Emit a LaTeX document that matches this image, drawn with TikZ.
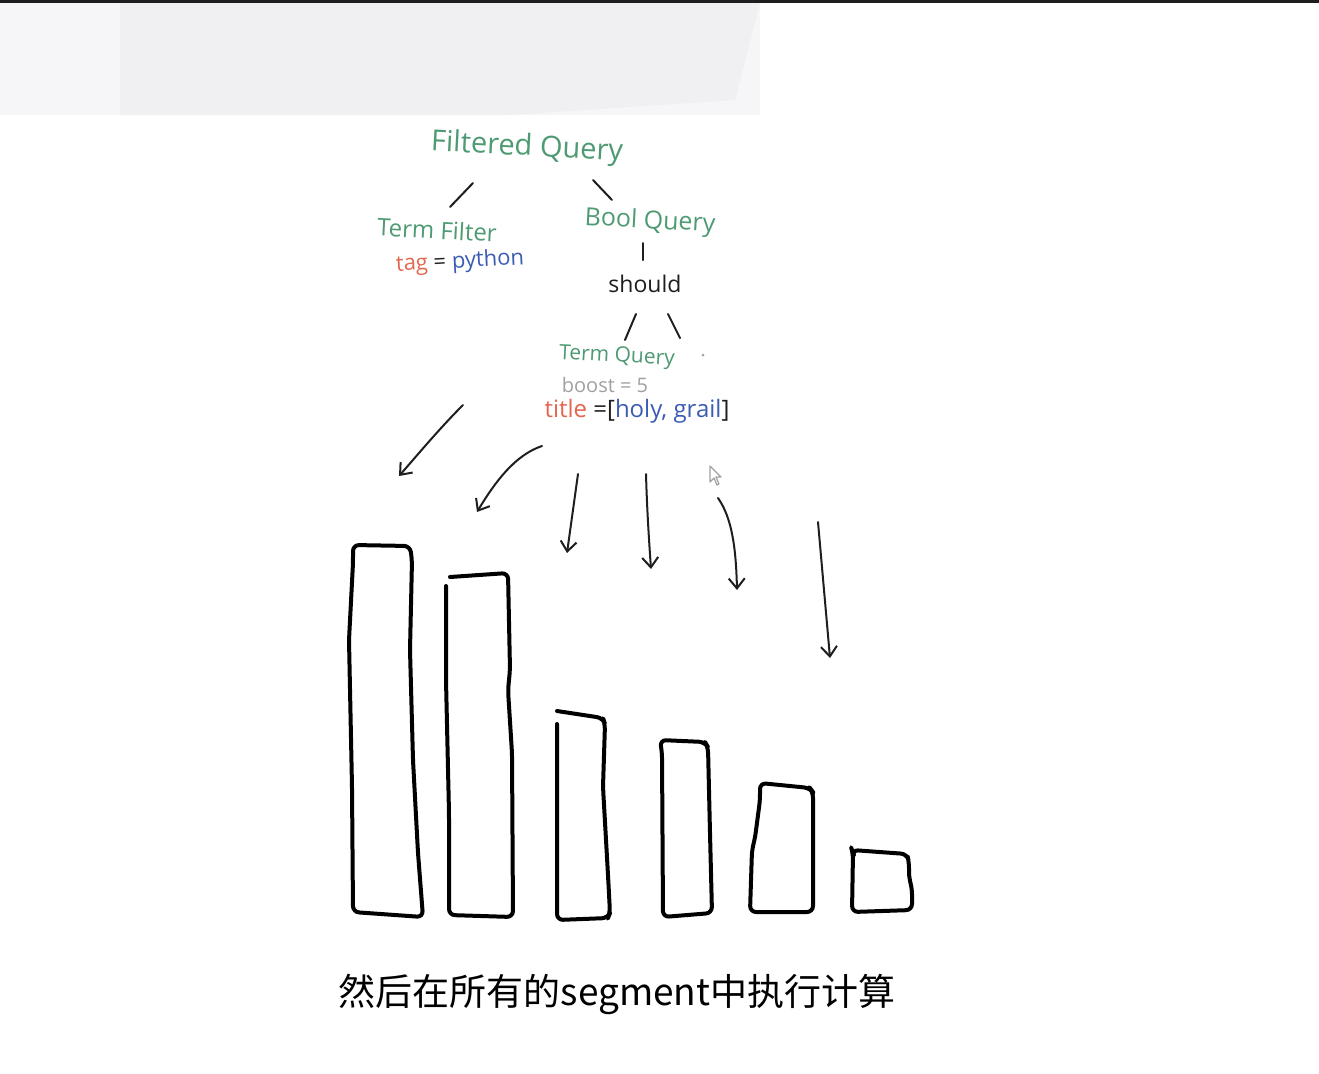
\documentclass[tikz,border=0pt]{standalone}
\usepackage{fontspec}
\setmainfont{Open Sans}
\newfontfamily\cjk{Noto Sans CJK SC}
\usetikzlibrary{arrows.meta}

\definecolor{querygreen}{HTML}{4E9A72}
\definecolor{fieldred}{HTML}{E4664E}
\definecolor{valueblue}{HTML}{3C5CB4}
\definecolor{boostgray}{HTML}{A0A0A0}
\definecolor{inkblack}{HTML}{1E1E1E}
\definecolor{bandgray}{HTML}{F6F6F8}
\definecolor{banddark}{HTML}{F0F0F2}

\begin{document}
\begin{tikzpicture}[
  x=0.5pt,
  y=-0.5pt,
  line join=round,
  line cap=round,
  qlabel/.style={text=querygreen,inner sep=0pt},
  branch/.style={draw=inkblack,line width=1pt},
  scanarrow/.style={draw=inkblack,line width=1pt,-{Straight Barb[length=5pt,width=8pt]}},
  segbar/.style={draw=black,line width=2pt,rounded corners=3pt}
]
  % Keep the frame of the screen capture.
  \useasboundingbox (0,0) rectangle (1319,1073);

  % Grey band left over at the top of the capture.
  \fill[bandgray] (0,3) rectangle (760,115);
  \fill[banddark] (120,3) -- (760,3) -- (735,100) -- (510,115) -- (120,115) -- cycle;
  \fill[inkblack] (0,0) rectangle (1319,3);

  % Query tree, handwritten labels.
  \node[qlabel,font=\fontsize{14.5}{17}\selectfont,rotate=-3] (filtered) at (527,148) {Filtered Query};
  \node[qlabel,font=\fontsize{12}{14}\selectfont,rotate=-3] (termfilter) at (437,230) {Term Filter};
  \node[inner sep=0pt,text=inkblack,font=\fontsize{11}{13}\selectfont,rotate=3] (tagterm) at (460,262)
    {\textcolor{fieldred}{tag} = \textcolor{valueblue}{python}};
  \node[qlabel,font=\fontsize{12.5}{15}\selectfont,rotate=-3] (boolq) at (650,222) {Bool Query};
  \node[inner sep=0pt,text=inkblack,font=\fontsize{11.5}{14}\selectfont] (should) at (645,284) {should};
  \node[qlabel,font=\fontsize{10.5}{13}\selectfont,rotate=-3] (termquery) at (617,357) {Term Query};
  \node[inner sep=0pt,text=boostgray,font=\fontsize{10}{12}\selectfont] (boost) at (605,385) {boost = 5};
  \node[inner sep=0pt,text=inkblack,font=\fontsize{12}{14}\selectfont] (titleterm) at (637,411)
    {\textcolor{fieldred}{title} =[\textcolor{valueblue}{holy, grail}]};

  % Tree strokes between the labels.
  \coordinate (shouldright) at (680,338);
  \draw[branch] ([shift={(-54,35)}]filtered.center) -- ([shift={(13,-23)}]termfilter.center);
  \draw[branch] ([shift={(66,32)}]filtered.center) -- ([shift={(-38,-22)}]boolq.center);
  \draw[branch] ([shift={(-7,21)}]boolq.center) -- ([shift={(-2,-24)}]should.center);
  \draw[branch] ([shift={(-9,30)}]should.center) -- ([shift={(8,-17)}]termquery.center);
  \draw[branch] ([shift={(23,30)}]should.center) -- (shouldright);
  \fill[boostgray] (703,355) circle[radius=1.5];

  % Arrows fanning out to the segments.
  \coordinate (arrA) at (463,405);  \coordinate (tipA) at (399,476);
  \coordinate (arrB) at (542,446);  \coordinate (tipB) at (477,512);
  \coordinate (arrC) at (578,474);  \coordinate (tipC) at (567,553);
  \coordinate (arrD) at (646,474);  \coordinate (tipD) at (651,569);
  \coordinate (arrE) at (718,498);  \coordinate (tipE) at (737,590);
  \coordinate (arrF) at (818,522);  \coordinate (tipF) at (830,658);
  \draw[scanarrow] (arrA) .. controls (440,428) and (420,452) .. (tipA);
  \draw[scanarrow] (arrB) .. controls (515,455) and (495,482) .. (tipB);
  \draw[scanarrow] (arrC) -- (tipC);
  \draw[scanarrow] (arrD) .. controls (647,510) and (649,540) .. (tipD);
  \draw[scanarrow] (arrE) .. controls (732,518) and (736,548) .. (tipE);
  \draw[scanarrow] (arrF) -- (tipF);

  % Segments, shrinking from left to right.
  \draw[segbar] (353,545) -- (410,546) -- (412,560) -- (410,650) -- (413,760)
    -- (418,853) -- (423,917) -- (353,912) -- (352,787) -- (349,640) -- (353,563) -- cycle;
  \draw[segbar] (450,577) -- (508,573) -- (510,670) -- (508,690) -- (512,753) -- (513,917)
    -- (449,915) -- (449,813) -- (446,680) -- (446,586);
  \draw[segbar] (557,711) -- (603,718) -- (605,724) -- (603,787) -- (608,875) -- (610,913)
    -- (608,918) -- (557,920) -- (557,724);
  \draw[segbar] (660,740) -- (705,742) -- (708,747) -- (710,833) -- (712,913)
    -- (663,917) -- (662,753) -- cycle;
  \draw[segbar] (760,783) -- (810,788) -- (813,792) -- (813,912) -- (750,912)
    -- (752,850) -- (755,838) -- (760,800) -- cycle;
  \draw[segbar] (852,850) -- (907,854) -- (909,862) -- (909,878) -- (912,888) -- (912,910)
    -- (852,912) -- (853,853) -- cycle;

  % Mouse pointer left in the capture.
  \filldraw[fill=white,draw=boostgray,line width=0.6pt] (710,466) -- (710,482) -- (714,478)
    -- (717,485) -- (719,484) -- (716,477) -- (721,477) -- cycle;

  % Caption.
  \node[inner sep=0pt,text=black,font=\cjk\fontsize{18.5}{22}\selectfont] (caption) at (617,994)
    {然后在所有的segment中执行计算};
\end{tikzpicture}
\end{document}
